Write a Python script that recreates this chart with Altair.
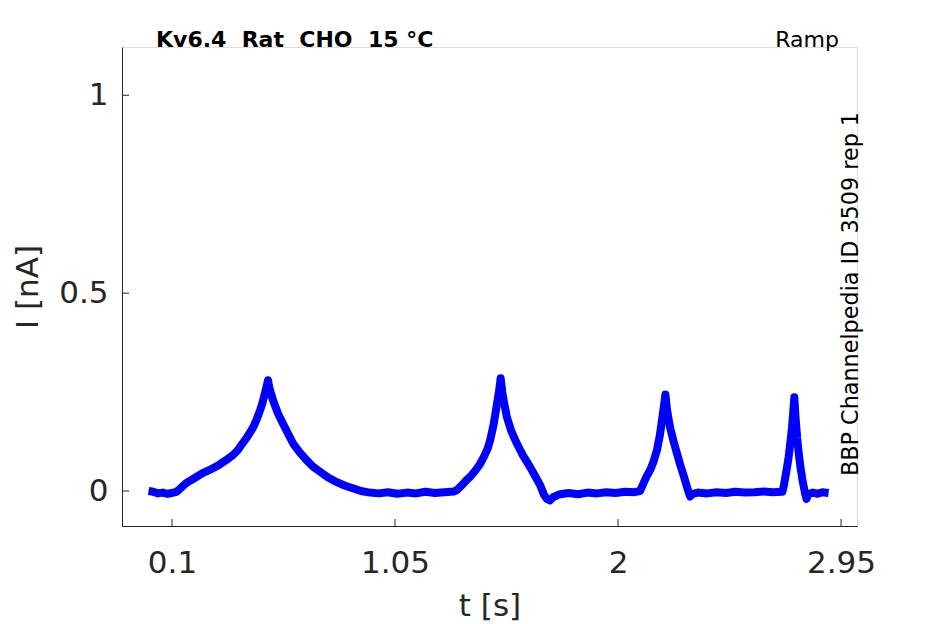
import altair as alt
import pandas as pd

# ---- data ----
t_s = [0.00, 0.02, 0.04, 0.06, 0.08, 0.10, 0.12,
       0.16, 0.20, 0.23, 0.27, 0.30, 0.33, 0.36, 0.38, 0.40, 0.42, 0.445, 0.46, 0.474, 0.485, 0.495, 0.503, 0.509,
       0.515, 0.53, 0.55, 0.573, 0.595, 0.616, 0.645, 0.673, 0.70, 0.73, 0.765, 0.80, 0.835, 0.87, 0.905, 0.943,
       0.98, 1.02, 1.06, 1.10, 1.14, 1.18, 1.22, 1.26, 1.30,
       1.313, 1.335, 1.355, 1.37, 1.39, 1.412, 1.43, 1.445, 1.455, 1.47, 1.483, 1.493, 1.50,
       1.507, 1.515, 1.526, 1.545, 1.569, 1.595, 1.625, 1.645, 1.668, 1.685, 1.697, 1.71, 1.725, 1.753,
       1.79, 1.83, 1.87, 1.91, 1.95, 1.99, 2.03, 2.07, 2.094,
       2.108, 2.12, 2.137, 2.15, 2.166, 2.178, 2.187, 2.195, 2.202,
       2.208, 2.215, 2.222, 2.236, 2.251, 2.265, 2.279, 2.29, 2.30, 2.307, 2.315,
       2.34, 2.38, 2.42, 2.46, 2.50, 2.54, 2.58, 2.62, 2.66, 2.70,
       2.706, 2.713, 2.72, 2.727, 2.734, 2.741, 2.746, 2.751,
       2.756, 2.763, 2.77, 2.777, 2.785, 2.792, 2.798, 2.803, 2.81,
       2.83, 2.85, 2.87, 2.897]

i_nA = [0.000, -0.002, -0.006, -0.004, -0.007, -0.005, -0.002,
        0.020, 0.034, 0.045, 0.056, 0.066, 0.078, 0.091, 0.103, 0.120, 0.136, 0.160, 0.180, 0.202, 0.222, 0.245, 0.264, 0.280,
        0.260, 0.230, 0.198, 0.170, 0.144, 0.120, 0.097, 0.078, 0.062, 0.049, 0.034, 0.023, 0.014, 0.007, 0.000, -0.004,
        -0.006, -0.003, -0.007, -0.004, -0.006, -0.002, -0.005, -0.003, -0.001,
        0.002, 0.015, 0.028, 0.036, 0.050, 0.068, 0.088, 0.108, 0.128, 0.168, 0.215, 0.252, 0.285,
        0.250, 0.222, 0.188, 0.152, 0.120, 0.090, 0.061, 0.040, 0.015, -0.010, -0.020, -0.024, -0.015, -0.008,
        -0.005, -0.008, -0.004, -0.006, -0.003, -0.005, -0.002, -0.003, 0.000,
        0.019, 0.035, 0.053, 0.072, 0.104, 0.140, 0.178, 0.213, 0.244,
        0.208, 0.183, 0.160, 0.127, 0.095, 0.066, 0.040, 0.018, -0.002, -0.014, -0.008,
        -0.004, -0.006, -0.003, -0.005, -0.002, -0.004, -0.003, -0.001, -0.003, -0.002,
        0.012, 0.036, 0.060, 0.087, 0.122, 0.160, 0.196, 0.237,
        0.188, 0.135, 0.094, 0.061, 0.030, 0.008, -0.010, -0.020, -0.008,
        -0.004, -0.007, -0.003, -0.005]

x_ticks = [0.1, 1.05, 2, 2.95]
y_ticks = [0, 0.5, 1]
x_domain = [-0.113, 3.018]
y_domain = [-0.0884, 1.122]

title_text = "Kv6.4\u00a0\u00a0Rat\u00a0\u00a0CHO\u00a0\u00a015\u00a0°C"
protocol_text = "Ramp"
source_text = "BBP Channelpedia ID 3509 rep 1"

W, H = 735, 479
FONT = "DejaVu Sans"
AX = "#262626"

df = pd.DataFrame({"t": t_s, "i": i_nA, "order": list(range(len(t_s)))})
xt = pd.DataFrame({"v": x_ticks})
yt = pd.DataFrame({"v": y_ticks})

xscale = alt.Scale(domain=x_domain, nice=False, zero=False)
yscale = alt.Scale(domain=y_domain, nice=False, zero=False)

LBL = "format(datum.value, '.3~g')"

xaxis = alt.Axis(values=x_ticks, labelExpr=LBL, title="t [s]", grid=False, ticks=False, tickSize=0,
                 domainColor=AX, domainWidth=1, labelColor=AX, titleColor=AX,
                 labelFont=FONT, titleFont=FONT, labelFontSize=31, titleFontSize=31,
                 titleFontWeight="normal", labelBaseline="alphabetic", labelPadding=46,
                 titleBaseline="alphabetic", titleY=89, labelFlush=False, labelOverlap=False)
yaxis = alt.Axis(values=y_ticks, labelExpr=LBL, title="I [nA]", grid=False, ticks=False, tickSize=0,
                 domainColor=AX, domainWidth=1, labelColor=AX, titleColor=AX,
                 labelFont=FONT, titleFont=FONT, labelFontSize=31, titleFontSize=31,
                 titleFontWeight="normal", labelPadding=14, titleAngle=270,
                 titleBaseline="alphabetic", titleX=-85, labelFlush=False, labelOverlap=False)

trace = alt.Chart(df).mark_line(color="#0000ff", strokeWidth=8, strokeJoin="round", clip=True).encode(
    x=alt.X("t:Q", scale=xscale, axis=xaxis),
    y=alt.Y("i:Q", scale=yscale, axis=yaxis),
    order="order:Q",
)

xtick_rules = alt.Chart(xt).mark_rule(color=AX, strokeWidth=1).encode(
    x=alt.X("v:Q", scale=xscale), y=alt.value(H), y2=alt.value(H - 7)
)
ytick_rules = alt.Chart(yt).mark_rule(color=AX, strokeWidth=1).encode(
    y=alt.Y("v:Q", scale=yscale), x=alt.value(0), x2=alt.value(7)
)

title_mark = alt.Chart(pd.DataFrame({"s": [title_text]})).mark_text(
    font=FONT, fontSize=22, fontWeight="bold", color="black", align="left", baseline="alphabetic"
).encode(text="s:N", x=alt.value(34), y=alt.value(0))

ramp_mark = alt.Chart(pd.DataFrame({"s": [protocol_text]})).mark_text(
    font=FONT, fontSize=22, color="black", align="right", baseline="alphabetic"
).encode(text="s:N", x=alt.value(717), y=alt.value(0))

source_mark = alt.Chart(pd.DataFrame({"s": [source_text]})).mark_text(
    font=FONT, fontSize=22.3, color="black", align="center", baseline="alphabetic", angle=270
).encode(text="s:N", x=alt.value(736), y=alt.value(247))

chart = alt.layer(trace, xtick_rules, ytick_rules, title_mark, ramp_mark, source_mark).properties(
    width=W, height=H,
    autosize=alt.AutoSizeParams(type="none"),
    padding={"left": 114, "top": 39, "right": 80, "bottom": 96},
).configure_view(stroke=None).configure(background="white")

chart.save("out.html", embed_options={"renderer": "svg", "actions": False})
